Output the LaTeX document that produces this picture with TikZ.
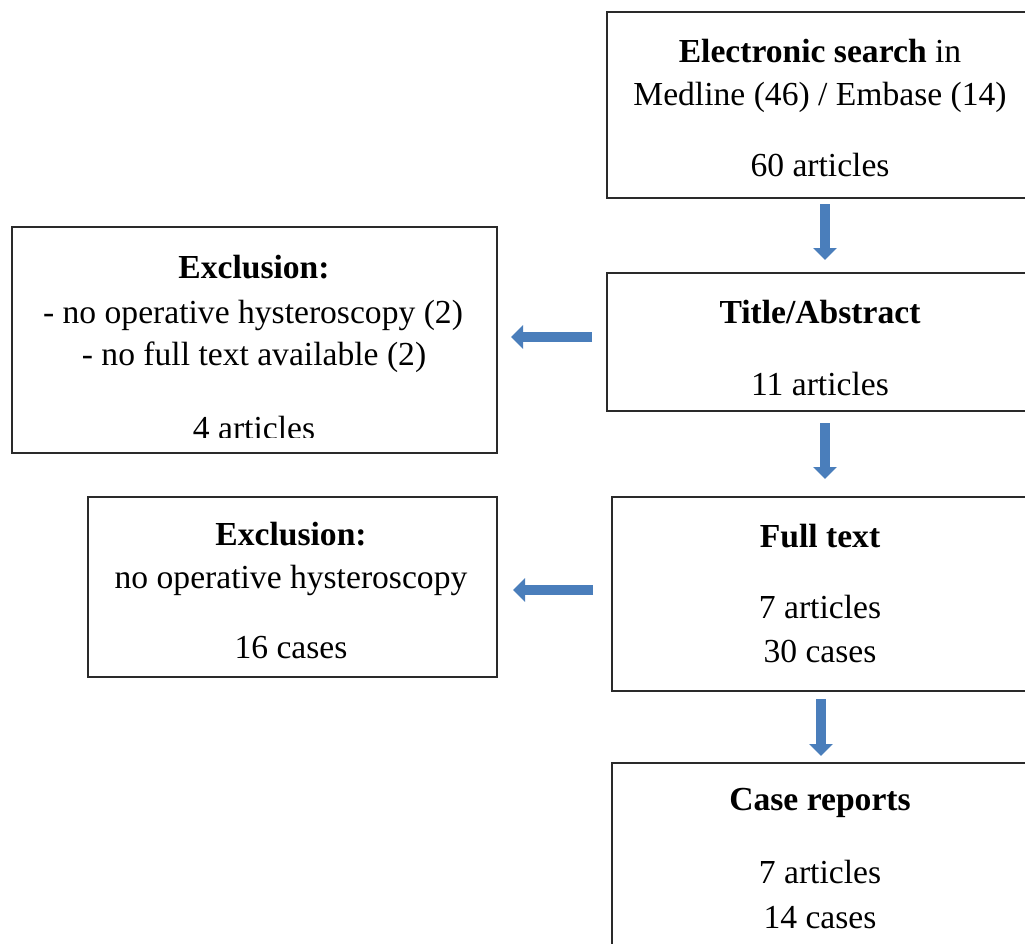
\documentclass[tikz,border=0pt]{standalone}
\usepackage{fontspec}
\setmainfont{Liberation Serif}
\usetikzlibrary{arrows.meta}
\definecolor{arrowblue}{HTML}{4A7EBB}
\definecolor{boxline}{HTML}{2A2A2A}
\tikzset{
  box/.style={draw=boxline, line width=1.8pt, rectangle, inner sep=0pt, outer sep=0pt, anchor=north west},
  txt/.style={font=\fontsize{33.6}{40}\selectfont, inner sep=0pt, anchor=base},
  blockarrow/.style={draw=arrowblue, line width=10pt, -{Triangle[width=23pt,length=12pt]}}
}
\begin{document}
\begin{tikzpicture}[x=1pt,y=-1pt]
\useasboundingbox (0,0) rectangle (1025,943);
\fill[white] (0,0) rectangle (1025,943);
\clip (0,0) rectangle (1025,943);

% boxes
\node[box, minimum width=428pt, minimum height=186pt] (search) at (607,12) {};
\node[box, minimum width=428pt, minimum height=138pt] (title) at (607,273) {};
\node[box, minimum width=418pt, minimum height=194pt] (full) at (612,497) {};
\node[box, minimum width=418pt, minimum height=210pt] (case) at (612,763) {};
\node[box, minimum width=485pt, minimum height=226pt] (excla) at (12,227) {};
\node[box, minimum width=409pt, minimum height=180pt] (exclb) at (88,497) {};

% texts: search
\node[txt] (s1) at (820,62) {\textbf{Electronic search} in};
\node[txt] (s2) at (820,105) {Medline (46) / Embase (14)};
\node[txt] (s3) at (820,176) {60 articles};
% title
\node[txt] (t1) at (820,323) {\textbf{Title/Abstract}};
\node[txt] (t2) at (820,395) {11 articles};
% full text
\node[txt] (f1) at (820,547) {\textbf{Full text}};
\node[txt] (f2) at (820,618) {7 articles};
\node[txt] (f3) at (820,662) {30 cases};
% case reports
\node[txt] (c1) at (820,810) {\textbf{Case reports}};
\node[txt] (c2) at (820,883) {7 articles};
\node[txt] (c3) at (820,928) {14 cases};
% exclusion 1
\node[txt] (a1) at (254,278) {\textbf{Exclusion:}};
\node[txt] (a2) at (253,323) {- no operative hysteroscopy (2)};
\node[txt] (a3) at (254,365) {- no full text available (2)};
\begin{scope}
\clip (12,227) rectangle (497,437);
\node[txt] (a4) at (254,439) {4 articles};
\end{scope}
% exclusion 2
\node[txt] (b1) at (291,545) {\textbf{Exclusion:}};
\node[txt] (b2) at (291,588) {no operative hysteroscopy};
\node[txt] (b3) at (291,658) {16 cases};

% arrows
\draw[blockarrow] ([xshift=4pt,yshift=-6pt]search.south) -- ([xshift=4pt,yshift=13pt]title.north);
\draw[blockarrow] ([xshift=4pt,yshift=-12pt]title.south) -- ([xshift=4pt,yshift=18pt]full.north);
\draw[blockarrow] ([xshift=0pt,yshift=-8pt]full.south) -- ([xshift=0pt,yshift=7pt]case.north);
\draw[blockarrow] ([xshift=-15pt,yshift=5pt]title.west) -- ([xshift=14pt,yshift=3pt]excla.east);
\draw[blockarrow] ([xshift=-19pt,yshift=4pt]full.west) -- ([xshift=16pt,yshift=-3pt]exclb.east);
\end{tikzpicture}
\end{document}
